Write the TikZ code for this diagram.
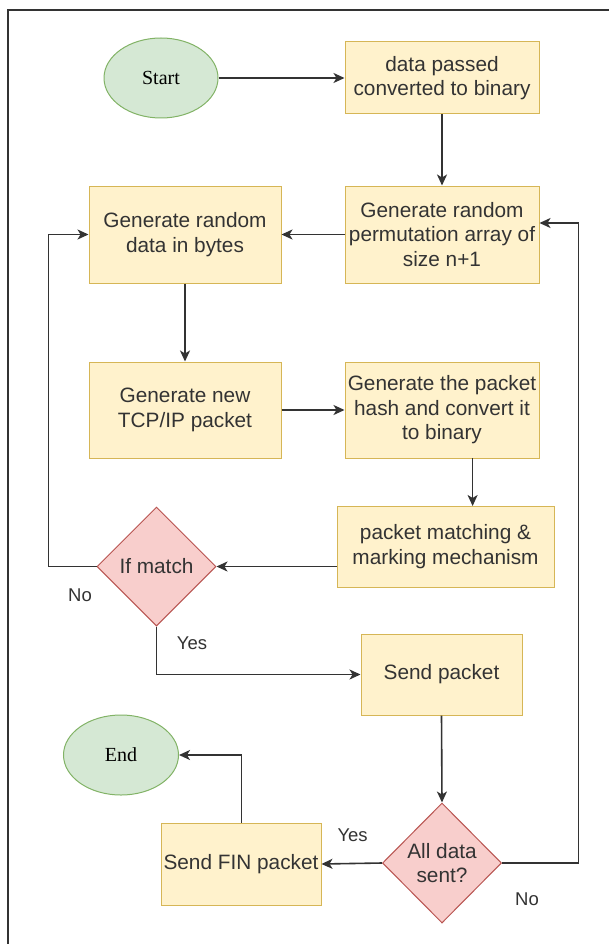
\documentclass[tikz,border=0pt]{standalone}
\usepackage{fontspec}
\setmainfont{Liberation Sans}
\newfontfamily\serifface{Liberation Serif}
\usetikzlibrary{shapes.geometric,arrows.meta}
\definecolor{boxfill}{HTML}{FFF2CC}
\definecolor{boxline}{HTML}{D6B656}
\definecolor{ellfill}{HTML}{D5E8D4}
\definecolor{ellline}{HTML}{82B366}
\definecolor{dfill}{HTML}{F8CECC}
\definecolor{dline}{HTML}{B85450}
\definecolor{ink}{HTML}{333333}
\tikzset{
  box/.style={draw=boxline, fill=boxfill, line width=1pt, inner sep=0pt, align=center,
    text=ink, font=\fontsize{20.8}{24.5}\selectfont},
  term/.style={ellipse, draw=ellline, fill=ellfill, line width=1pt, inner sep=0pt,
    text=black, font=\serifface\fontsize{20}{24}\selectfont},
  decide/.style={diamond, aspect=1, draw=dline, fill=dfill, line width=1pt, inner sep=0pt,
    align=center, text=ink, font=\fontsize{20.8}{24.5}\selectfont},
  conn/.style={draw=ink, line width=1.6pt, -{Stealth[length=11pt,width=10pt,inset=3pt]}},
  lbl/.style={text=ink, font=\fontsize{18.5}{22}\selectfont, inner sep=0pt},
}
\begin{document}
\begin{tikzpicture}[x=1pt,y=-1pt]
\useasboundingbox (0,0) rectangle (609,944);
\fill[white] (0,0) rectangle (609,944);
% frame
\draw[ink, line width=1.8pt] (609,10) -- (8,10) -- (8,944);

\node[term, minimum width=114pt, minimum height=80pt] (start) at (161,78) {Start};
\node[box, minimum width=194pt, minimum height=72pt] (data) at (442,78) {data passed\\converted to binary};
\node[box, minimum width=194pt, minimum height=97pt] (perm) at (442,234.5) {Generate random\\permutation array of\\size n+1};
\node[box, minimum width=192pt, minimum height=97pt] (rand) at (185,234.5) {Generate random\\data in bytes};
\node[box, minimum width=192pt, minimum height=96pt] (tcp) at (185,410) {Generate new\\TCP/IP packet};
\node[box, minimum width=194pt, minimum height=96pt] (hash) at (442,410) {Generate the packet\\hash and convert it\\to binary};
\node[box, minimum width=217pt, minimum height=81pt] (match) at (445.5,546.5) {packet matching \&\\marking mechanism};
\node[decide, minimum width=119pt, minimum height=119pt] (ifm) at (156.5,566.5) {If match};
\node[box, minimum width=161pt, minimum height=81pt] (send) at (441.5,674.5) {Send packet};
\node[decide, minimum width=119pt, minimum height=120pt] (all) at (442,863) {All data\\sent?};
\node[box, minimum width=160pt, minimum height=82pt] (fin) at (241,864) {Send FIN packet};
\node[term, minimum width=115pt, minimum height=80pt] (end) at (121,755) {End};

\coordinate (c1) at (48.5,566.5);
\coordinate (c2) at (48.5,234.5);
\coordinate (c3) at (578.6,863);
\coordinate (c4) at (578.6,223);
\coordinate (c5) at (156.5,674.5);
\coordinate (c6) at (241.5,755);
\coordinate (h1) at (472.6,458);
\coordinate (h2) at (472.6,506);
\coordinate (m1) at (337,566.5);

\draw[conn] (start.east) -- (data.west);
\draw[conn] (data.south) -- (perm.north);
\draw[conn] (perm.west) -- (rand.east);
\draw[conn] (rand.south) -- (tcp.north);
\draw[conn] (tcp.east) -- (hash.west);
\draw[conn] (h1) -- (h2);
\draw[conn] (m1) -- (ifm.east);
\draw[conn] (ifm.west) -- (c1) -- (c2) -- (rand.west);
\draw[conn] (ifm.south) -- (c5) -- (send.west);
\draw[conn] (send.south) -- (all.north);
\draw[conn] (all.west) -- (fin.east);
\draw[conn] (all.east) -- (c3) -- (c4) -- (perm.east |- c4);
\draw[conn] (fin.north -| c6) -- (c6) -- (end.east);

\node[lbl] (l1) at (80,595) {No};
\node[lbl] (l2) at (192,643) {Yes};
\node[lbl] (l3) at (352.6,835) {Yes};
\node[lbl] (l4) at (527,899) {No};
\end{tikzpicture}
\end{document}
